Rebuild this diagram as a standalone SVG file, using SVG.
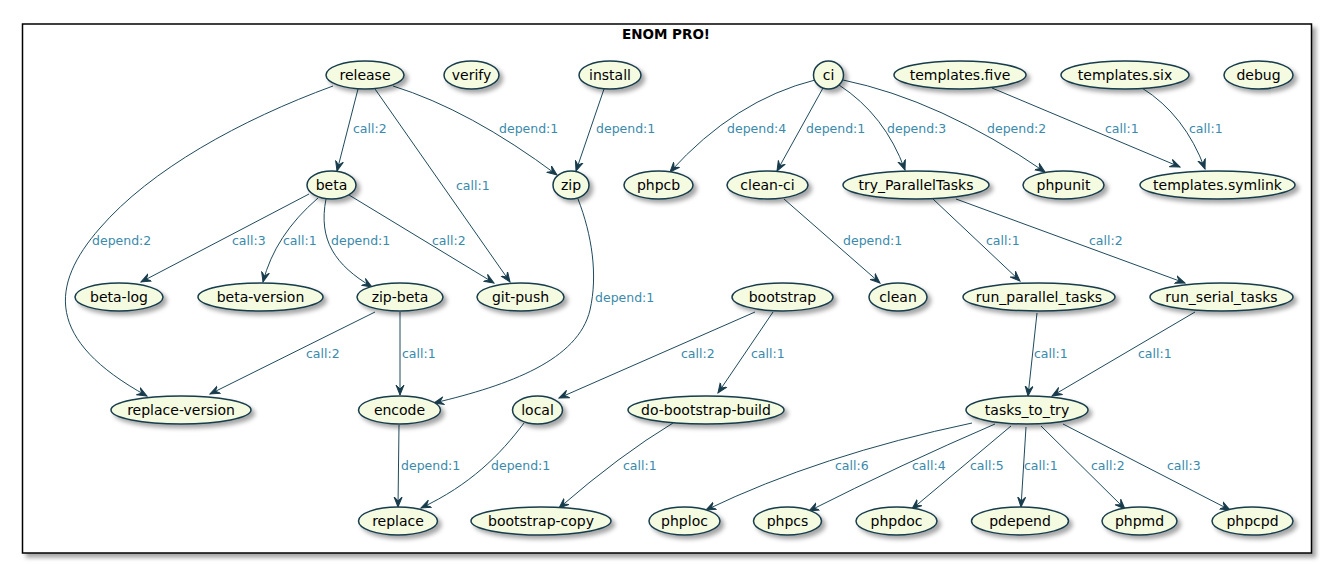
<svg xmlns="http://www.w3.org/2000/svg" width="1320" height="564" viewBox="0 0 1320 564">
<style>
.n ellipse{fill:#F5FBE1;stroke:#183C4C;stroke-width:1.5;filter:url(#sh)}
.n text{font-family:"DejaVu Sans",sans-serif;font-size:14px;fill:#000;text-anchor:middle}
#edges path{fill:none;stroke:#1E4A5C;stroke-width:1;marker-end:url(#ah)}
#labels text{font-family:"DejaVu Sans",sans-serif;font-size:12.5px;fill:#3A8AAB}
.title{font-family:"DejaVu Sans",sans-serif;font-size:13.5px;font-weight:bold;text-anchor:middle}
</style>
<defs>
<filter id="sh" x="-20%" y="-40%" width="150%" height="200%">
<feDropShadow dx="3.5" dy="3.5" stdDeviation="2" flood-color="#000" flood-opacity="0.35"/>
</filter>
<filter id="shf" x="-5%" y="-5%" width="110%" height="110%">
<feDropShadow dx="4" dy="4" stdDeviation="2" flood-color="#000" flood-opacity="0.35"/>
</filter>
<marker id="ah" markerUnits="userSpaceOnUse" markerWidth="11" markerHeight="10" refX="10" refY="5" orient="auto" viewBox="0 0 11 10">
<path d="M0,1 L10,5 L0,9 L4,5 Z" fill="#183C4C" stroke="#183C4C" stroke-width="1"/>
</marker>
</defs>
<rect width="1320" height="564" fill="#fff"/>
<g id="frame">
<rect x="22.5" y="24" width="1289" height="529" fill="#fff" stroke="#000" stroke-width="1.5" filter="url(#shf)"/>
<text class="title" x="666" y="39">ENOM PRO!</text>
</g>
<g id="edges">
<path d="M358,89 L337,171"/>
<path d="M333,86 C240,120 150,170 100,228 C50,285 45,340 147,396"/>
<path d="M375,89 L510,282"/>
<path d="M393,86 Q470,110 557,175"/>
<path d="M604,89 L576,171"/>
<path d="M578,199 C592,235 598,275 590,310 C578,360 510,385 434,403"/>
<path d="M309,194 L141,282"/>
<path d="M318,198 Q275,235 263,282"/>
<path d="M326,199 C318,240 335,265 372,287"/>
<path d="M349,195 L494,283"/>
<path d="M375,312 L210,394"/>
<path d="M400,312 L400,395"/>
<path d="M399,425 L398,507"/>
<path d="M524,423 C500,455 470,485 421,508"/>
<path d="M755,312 L559,398"/>
<path d="M773,312 L718,393"/>
<path d="M673,423 Q620,455 559,508"/>
<path d="M815,80 Q735,100 670,172"/>
<path d="M823,88 L777,171"/>
<path d="M839,85 Q885,115 905,170"/>
<path d="M843,80 Q940,100 1045,172"/>
<path d="M992,88 L1180,167"/>
<path d="M1142,88 Q1185,115 1205,169"/>
<path d="M784,199 L880,283"/>
<path d="M933,199 L1020,281"/>
<path d="M956,199 L1185,283"/>
<path d="M1037,313 L1028,396"/>
<path d="M1195,312 L1052,396"/>
<path d="M972,423 Q820,455 706,510"/>
<path d="M995,424 Q900,465 809,511"/>
<path d="M1011,426 L912,509"/>
<path d="M1026,427 L1021,507"/>
<path d="M1041,426 L1125,509"/>
<path d="M1063,424 L1230,510"/>
</g>
<g id="labels">
<text x="353" y="133">call:2</text>
<text x="92" y="245">depend:2</text>
<text x="456" y="190">call:1</text>
<text x="499" y="133">depend:1</text>
<text x="596" y="133">depend:1</text>
<text x="595" y="302">depend:1</text>
<text x="232" y="245">call:3</text>
<text x="283" y="245">call:1</text>
<text x="331" y="245">depend:1</text>
<text x="432" y="245">call:2</text>
<text x="306" y="358">call:2</text>
<text x="402" y="358">call:1</text>
<text x="401" y="470">depend:1</text>
<text x="491" y="470">depend:1</text>
<text x="681" y="358">call:2</text>
<text x="751" y="358">call:1</text>
<text x="623" y="470">call:1</text>
<text x="727" y="133">depend:4</text>
<text x="806" y="133">depend:1</text>
<text x="887" y="133">depend:3</text>
<text x="987" y="133">depend:2</text>
<text x="1105" y="133">call:1</text>
<text x="1189" y="133">call:1</text>
<text x="843" y="245">depend:1</text>
<text x="986" y="245">call:1</text>
<text x="1089" y="245">call:2</text>
<text x="1034" y="358">call:1</text>
<text x="1138" y="358">call:1</text>
<text x="835" y="470">call:6</text>
<text x="912" y="470">call:4</text>
<text x="970" y="470">call:5</text>
<text x="1024" y="470">call:1</text>
<text x="1091" y="470">call:2</text>
<text x="1167" y="470">call:3</text>
</g>
<g id="release" class="n"><ellipse cx="365" cy="75" rx="39" ry="14"/><text x="365" y="80">release</text></g>
<g id="verify" class="n"><ellipse cx="471.5" cy="75" rx="27.5" ry="14"/><text x="471.5" y="80">verify</text></g>
<g id="install" class="n"><ellipse cx="610" cy="75" rx="31" ry="14"/><text x="610" y="80">install</text></g>
<g id="ci" class="n"><ellipse cx="828.5" cy="75" rx="15" ry="14"/><text x="828.5" y="80">ci</text></g>
<g id="templates.five" class="n"><ellipse cx="960" cy="75" rx="66" ry="14"/><text x="960" y="80">templates.five</text></g>
<g id="templates.six" class="n"><ellipse cx="1125" cy="75" rx="64" ry="14"/><text x="1125" y="80">templates.six</text></g>
<g id="debug" class="n"><ellipse cx="1258.5" cy="75" rx="34.5" ry="14"/><text x="1258.5" y="80">debug</text></g>
<g id="beta" class="n"><ellipse cx="331.5" cy="185" rx="24.5" ry="14"/><text x="331.5" y="190">beta</text></g>
<g id="zip" class="n"><ellipse cx="571" cy="185" rx="18" ry="14"/><text x="571" y="190">zip</text></g>
<g id="phpcb" class="n"><ellipse cx="658.5" cy="185" rx="34.5" ry="14"/><text x="658.5" y="190">phpcb</text></g>
<g id="clean-ci" class="n"><ellipse cx="767.5" cy="185" rx="40.5" ry="14"/><text x="767.5" y="190">clean-ci</text></g>
<g id="try_ParallelTasks" class="n"><ellipse cx="916" cy="185" rx="73" ry="14"/><text x="916" y="190">try_ParallelTasks</text></g>
<g id="phpunit" class="n"><ellipse cx="1063.5" cy="185" rx="40.5" ry="14"/><text x="1063.5" y="190">phpunit</text></g>
<g id="templates.symlink" class="n"><ellipse cx="1217.5" cy="185" rx="77.5" ry="14"/><text x="1217.5" y="190">templates.symlink</text></g>
<g id="beta-log" class="n"><ellipse cx="119" cy="297" rx="44" ry="14"/><text x="119" y="302">beta-log</text></g>
<g id="beta-version" class="n"><ellipse cx="260.5" cy="297" rx="62.5" ry="14"/><text x="260.5" y="302">beta-version</text></g>
<g id="zip-beta" class="n"><ellipse cx="400" cy="297" rx="43" ry="14"/><text x="400" y="302">zip-beta</text></g>
<g id="git-push" class="n"><ellipse cx="520.5" cy="297" rx="43.5" ry="14"/><text x="520.5" y="302">git-push</text></g>
<g id="bootstrap" class="n"><ellipse cx="782.5" cy="297" rx="50.5" ry="14"/><text x="782.5" y="302">bootstrap</text></g>
<g id="clean" class="n"><ellipse cx="898" cy="297" rx="29" ry="14"/><text x="898" y="302">clean</text></g>
<g id="run_parallel_tasks" class="n"><ellipse cx="1039" cy="297" rx="76" ry="14"/><text x="1039" y="302">run_parallel_tasks</text></g>
<g id="run_serial_tasks" class="n"><ellipse cx="1221.5" cy="297" rx="71.5" ry="14"/><text x="1221.5" y="302">run_serial_tasks</text></g>
<g id="replace-version" class="n"><ellipse cx="181" cy="410" rx="70" ry="14"/><text x="181" y="415">replace-version</text></g>
<g id="encode" class="n"><ellipse cx="399.5" cy="410" rx="41" ry="14"/><text x="399.5" y="415">encode</text></g>
<g id="local" class="n"><ellipse cx="537.5" cy="410" rx="25" ry="14"/><text x="537.5" y="415">local</text></g>
<g id="do-bootstrap-build" class="n"><ellipse cx="706" cy="410" rx="78" ry="14"/><text x="706" y="415">do-bootstrap-build</text></g>
<g id="tasks_to_try" class="n"><ellipse cx="1027" cy="410" rx="61" ry="14"/><text x="1027" y="415">tasks_to_try</text></g>
<g id="replace" class="n"><ellipse cx="398" cy="521" rx="39.5" ry="14"/><text x="398" y="526">replace</text></g>
<g id="bootstrap-copy" class="n"><ellipse cx="541" cy="521" rx="70" ry="14"/><text x="541" y="526">bootstrap-copy</text></g>
<g id="phploc" class="n"><ellipse cx="684.5" cy="521" rx="35.5" ry="14"/><text x="684.5" y="526">phploc</text></g>
<g id="phpcs" class="n"><ellipse cx="787.5" cy="521" rx="34" ry="14"/><text x="787.5" y="526">phpcs</text></g>
<g id="phpdoc" class="n"><ellipse cx="896.5" cy="521" rx="40.5" ry="14"/><text x="896.5" y="526">phpdoc</text></g>
<g id="pdepend" class="n"><ellipse cx="1020" cy="521" rx="48.5" ry="14"/><text x="1020" y="526">pdepend</text></g>
<g id="phpmd" class="n"><ellipse cx="1139.5" cy="521" rx="37.5" ry="14"/><text x="1139.5" y="526">phpmd</text></g>
<g id="phpcpd" class="n"><ellipse cx="1252.5" cy="521" rx="40.5" ry="14"/><text x="1252.5" y="526">phpcpd</text></g>
</svg>
